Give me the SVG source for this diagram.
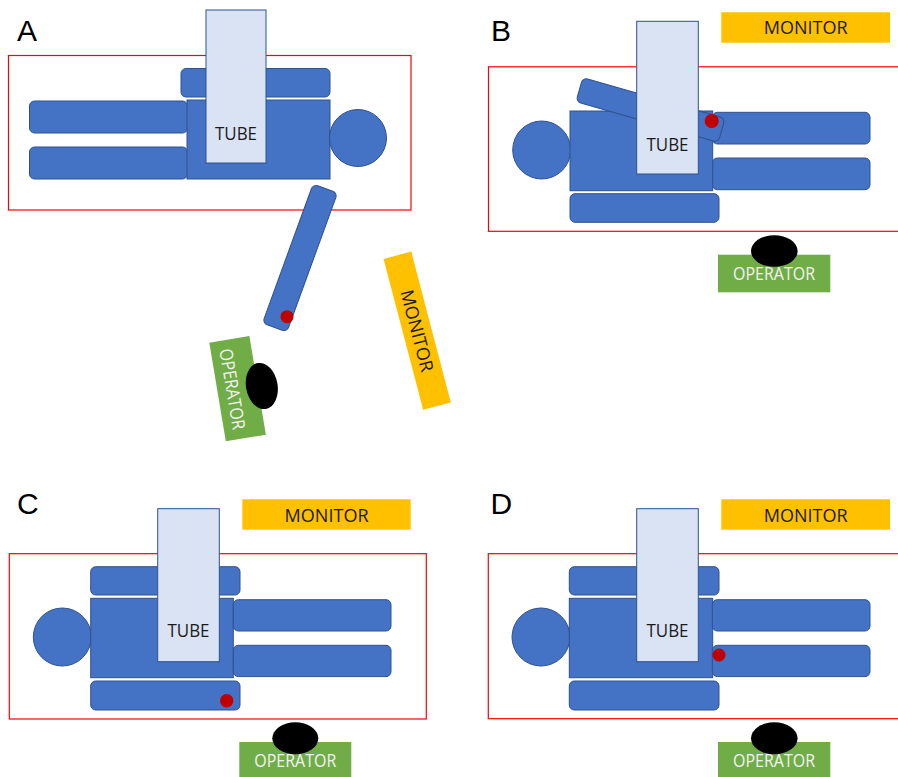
<svg xmlns="http://www.w3.org/2000/svg" width="898" height="777" viewBox="0 0 898 777">
  <style>
    .panel-label { font-family: "Liberation Sans", Arial, sans-serif; font-size: 30px; fill: #000; }
    .table { fill: none; stroke: #FF0000; stroke-width: 1.2; }
    .body { fill: #4472C4; stroke: #2F528F; stroke-width: 1; }
    .tube { fill: #DAE3F3; stroke: #2F528F; stroke-width: 1; }
    .monitor { fill: #FFC000; }
    .operator { fill: #70AD47; }
    .head-op { fill: #000; }
    .dot { fill: #C00000; }
    .lbl { font-family: "Open Sans", "Noto Sans", sans-serif; font-size: 18px; font-weight: 400; text-anchor: middle; }
    .dark { fill: #1a1a1a; }
    .light { fill: #F2F2F2; }
  </style>

  <!-- Panel A: arm swung out, operator and monitor beside the table -->
  <g id="panel-a">
    <text class="panel-label" x="17" y="41">A</text>
    <g id="a-table"><rect class="table" x="8.5" y="55.5" width="402.5" height="154.5"/></g>
    <g id="a-patient">
      <rect class="body" x="29.5" y="101" width="158" height="32" rx="5"/>
      <rect class="body" x="29.5" y="147" width="158" height="32" rx="5"/>
      <rect class="body" x="181" y="68.5" width="149" height="28.5" rx="5"/>
      <rect class="body" x="187" y="100" width="143" height="79"/>
      <circle class="body" cx="358" cy="138" r="28.5"/>
    </g>
    <g id="a-tube">
      <rect class="tube" x="206" y="10" width="60" height="153"/>
      <text class="lbl dark" x="236" y="140" textLength="42" lengthAdjust="spacingAndGlyphs">TUBE</text>
    </g>
    <g id="a-arm">
      <rect class="body" transform="translate(300,258) rotate(20)" x="-13" y="-74" width="26" height="148" rx="5"/>
      <circle class="dot" cx="287" cy="316.7" r="6.5"/>
    </g>
    <g id="a-operator">
      <rect class="operator" transform="translate(237.6,388.7) rotate(-9.5)" x="-20.3" y="-50" width="40.6" height="100"/>
      <text class="lbl light" transform="translate(232.5,389) rotate(80.5)" x="0" y="6.5" textLength="82" lengthAdjust="spacingAndGlyphs">OPERATOR</text>
      <ellipse class="head-op" transform="translate(261.8,386) rotate(-10)" cx="0" cy="0" rx="15.8" ry="23.3"/>
    </g>
    <g id="a-monitor">
      <rect class="monitor" transform="translate(417.2,330.7) rotate(-14.7)" x="-14.3" y="-78" width="28.6" height="156"/>
      <text class="lbl dark" transform="translate(417.2,330.7) rotate(75.3)" x="0" y="6.5" textLength="84" lengthAdjust="spacingAndGlyphs">MONITOR</text>
    </g>
  </g>

  <!-- Panel B: arm raised across the chest -->
  <g id="panel-b">
    <text class="panel-label" x="491" y="40.5">B</text>
    <g id="b-monitor">
      <rect class="monitor" x="721.3" y="12.3" width="168.7" height="30.4"/>
      <text class="lbl dark" x="805.7" y="34.3" textLength="84" lengthAdjust="spacingAndGlyphs">MONITOR</text>
    </g>
    <g id="b-table"><rect class="table" x="488.5" y="66.8" width="420" height="164.5"/></g>
    <g id="b-patient">
      <rect class="body" x="712.3" y="112.3" width="157.7" height="31.7" rx="5"/>
      <rect class="body" x="712.3" y="158" width="157.7" height="31.7" rx="5"/>
      <circle class="body" cx="541.7" cy="150" r="29"/>
      <rect class="body" x="570" y="111" width="142.7" height="79.7"/>
      <rect class="body" x="570" y="193.7" width="149" height="28.6" rx="5"/>
      <rect class="body" transform="translate(650.5,110) rotate(16)" x="-74" y="-12.5" width="148" height="25" rx="5"/>
    </g>
    <g id="b-tube">
      <rect class="tube" x="636.7" y="21.3" width="61.6" height="152.7"/>
      <text class="lbl dark" x="667.5" y="150.7" textLength="42" lengthAdjust="spacingAndGlyphs">TUBE</text>
    </g>
    <circle id="b-marker" class="dot" cx="711.7" cy="121" r="7"/>
    <g id="b-operator">
      <rect class="operator" x="718" y="254.7" width="112.3" height="37.6"/>
      <text class="lbl light" x="774" y="280" textLength="82" lengthAdjust="spacingAndGlyphs">OPERATOR</text>
      <ellipse class="head-op" cx="774.3" cy="251" rx="23.3" ry="15.8"/>
    </g>
  </g>

  <!-- Panel C: marker on the lower arm -->
  <g id="panel-c">
    <text class="panel-label" x="17" y="514">C</text>
    <g id="c-monitor">
      <rect class="monitor" x="242.3" y="499.3" width="168.4" height="30.4"/>
      <text class="lbl dark" x="326.6" y="521.7" textLength="84" lengthAdjust="spacingAndGlyphs">MONITOR</text>
    </g>
    <g id="c-table"><rect class="table" x="9.3" y="553.7" width="417" height="165.3"/></g>
    <g id="c-patient">
      <circle class="body" cx="62.3" cy="637" r="29"/>
      <rect class="body" x="90.7" y="566.7" width="149.3" height="28.3" rx="5"/>
      <rect class="body" x="90.7" y="598.3" width="142.6" height="79.4"/>
      <rect class="body" x="90.7" y="681" width="149.3" height="29" rx="5"/>
      <rect class="body" x="233.3" y="599.7" width="157.7" height="31.3" rx="5"/>
      <rect class="body" x="233.3" y="645.3" width="157.7" height="31.3" rx="5"/>
    </g>
    <g id="c-tube">
      <rect class="tube" x="157.7" y="508.7" width="61.6" height="153"/>
      <text class="lbl dark" x="188.5" y="637.3" textLength="42" lengthAdjust="spacingAndGlyphs">TUBE</text>
    </g>
    <circle id="c-marker" class="dot" cx="226.7" cy="700.7" r="6.7"/>
    <g id="c-operator">
      <rect class="operator" x="239.3" y="742" width="112" height="36"/>
      <text class="lbl light" x="295.3" y="766.7" textLength="82" lengthAdjust="spacingAndGlyphs">OPERATOR</text>
      <ellipse class="head-op" cx="295.3" cy="738.3" rx="23" ry="16"/>
    </g>
  </g>

  <!-- Panel D: marker at the hip -->
  <g id="panel-d">
    <text class="panel-label" x="490.5" y="514">D</text>
    <g id="d-monitor">
      <rect class="monitor" x="721.3" y="499.3" width="168.7" height="30.4"/>
      <text class="lbl dark" x="805.7" y="521.7" textLength="84" lengthAdjust="spacingAndGlyphs">MONITOR</text>
    </g>
    <g id="d-table"><rect class="table" x="488.3" y="553.7" width="420" height="165"/></g>
    <g id="d-patient">
      <circle class="body" cx="541" cy="637" r="29"/>
      <rect class="body" x="569.3" y="566.7" width="149.7" height="28.3" rx="5"/>
      <rect class="body" x="569.3" y="598.3" width="143.4" height="79.4"/>
      <rect class="body" x="569.3" y="681" width="149.7" height="29" rx="5"/>
      <rect class="body" x="712.3" y="599.7" width="157.7" height="31.3" rx="5"/>
      <rect class="body" x="712.3" y="645.3" width="157.7" height="31.3" rx="5"/>
    </g>
    <g id="d-tube">
      <rect class="tube" x="636.7" y="508.7" width="61.6" height="153"/>
      <text class="lbl dark" x="667.5" y="637.3" textLength="42" lengthAdjust="spacingAndGlyphs">TUBE</text>
    </g>
    <circle id="d-marker" class="dot" cx="719" cy="655" r="6.5"/>
    <g id="d-operator">
      <rect class="operator" x="718" y="742" width="112.3" height="36"/>
      <text class="lbl light" x="774" y="766.7" textLength="82" lengthAdjust="spacingAndGlyphs">OPERATOR</text>
      <ellipse class="head-op" cx="774.3" cy="738.3" rx="23.3" ry="16"/>
    </g>
  </g>
</svg>
